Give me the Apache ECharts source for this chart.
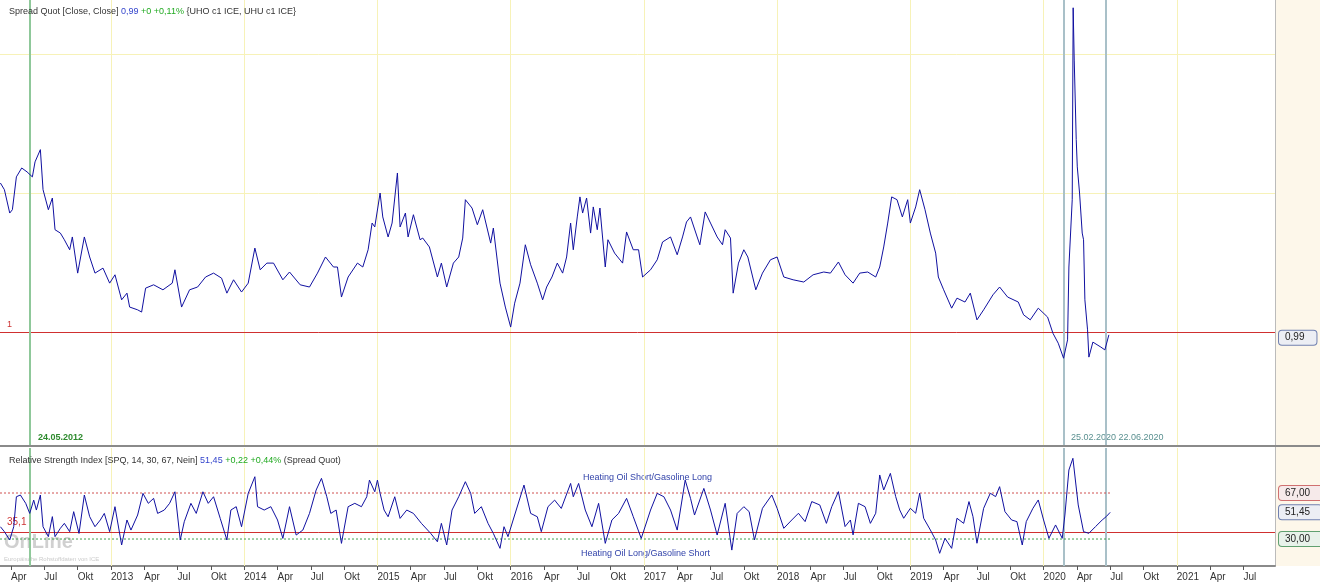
<!DOCTYPE html>
<html><head><meta charset="utf-8">
<script src="https://cdn.jsdelivr.net/npm/echarts@6/dist/echarts.min.js"></script>
<style>html,body{margin:0;padding:0;background:#fff}#c{width:1320px;height:582px}</style>
</head><body><div id="c"></div>
<script>
// Spread quote (decimal year, value)
const spreadT = [2012.17,2012.20,2012.24,2012.26,2012.29,2012.33,2012.37,2012.41,2012.43,2012.47,2012.49,2012.53,2012.56,2012.58,2012.62,2012.65,2012.69,2012.71,2012.75,2012.80,2012.84,2012.88,2012.94,2012.99,2013.03,2013.08,2013.12,2013.14,2013.20,2013.23,2013.26,2013.32,2013.39,2013.46,2013.48,2013.53,2013.59,2013.65,2013.71,2013.77,2013.83,2013.87,2013.92,2013.98,2014.03,2014.08,2014.12,2014.17,2014.22,2014.29,2014.34,2014.42,2014.49,2014.55,2014.61,2014.67,2014.70,2014.73,2014.78,2014.85,2014.89,2014.93,2014.96,2014.98,2015.02,2015.04,2015.08,2015.11,2015.15,2015.17,2015.21,2015.23,2015.27,2015.32,2015.34,2015.39,2015.45,2015.48,2015.52,2015.57,2015.61,2015.64,2015.66,2015.71,2015.75,2015.79,2015.85,2015.87,2015.92,2015.96,2016.00,2016.03,2016.07,2016.11,2016.15,2016.20,2016.24,2016.27,2016.31,2016.35,2016.39,2016.42,2016.45,2016.47,2016.50,2016.52,2016.54,2016.57,2016.60,2016.62,2016.65,2016.67,2016.71,2016.73,2016.78,2016.84,2016.87,2016.92,2016.96,2016.99,2017.05,2017.10,2017.14,2017.20,2017.25,2017.29,2017.32,2017.35,2017.40,2017.42,2017.46,2017.50,2017.55,2017.59,2017.61,2017.65,2017.67,2017.71,2017.75,2017.78,2017.84,2017.89,2017.95,2018.00,2018.05,2018.12,2018.20,2018.27,2018.35,2018.40,2018.46,2018.51,2018.57,2018.62,2018.68,2018.74,2018.77,2018.80,2018.83,2018.86,2018.90,2018.94,2018.98,2019.00,2019.04,2019.07,2019.11,2019.15,2019.19,2019.21,2019.25,2019.31,2019.35,2019.41,2019.45,2019.50,2019.55,2019.62,2019.67,2019.73,2019.81,2019.85,2019.90,2019.96,2020.03,2020.07,2020.11,2020.15,2020.18,2020.19,2020.215,2020.222,2020.23,2020.245,2020.253,2020.27,2020.29,2020.30,2020.31,2020.33,2020.34,2020.37,2020.43,2020.46,2020.49];
const spreadV = [1.268,1.256,1.214,1.220,1.279,1.295,1.288,1.279,1.306,1.328,1.256,1.220,1.241,1.184,1.178,1.166,1.148,1.171,1.106,1.171,1.135,1.106,1.115,1.088,1.103,1.058,1.070,1.045,1.040,1.036,1.079,1.085,1.076,1.088,1.112,1.045,1.076,1.081,1.099,1.106,1.097,1.070,1.094,1.072,1.088,1.151,1.112,1.124,1.124,1.094,1.108,1.085,1.081,1.106,1.135,1.117,1.117,1.063,1.099,1.124,1.117,1.148,1.196,1.189,1.250,1.207,1.171,1.196,1.286,1.189,1.214,1.171,1.211,1.166,1.169,1.153,1.099,1.124,1.081,1.124,1.135,1.169,1.238,1.223,1.193,1.220,1.160,1.187,1.088,1.045,1.009,1.052,1.088,1.157,1.121,1.088,1.058,1.081,1.099,1.124,1.106,1.135,1.196,1.148,1.207,1.243,1.214,1.241,1.178,1.225,1.184,1.223,1.117,1.166,1.142,1.124,1.180,1.148,1.148,1.099,1.112,1.130,1.162,1.171,1.139,1.171,1.198,1.207,1.171,1.157,1.216,1.196,1.171,1.157,1.184,1.169,1.070,1.124,1.148,1.135,1.076,1.106,1.130,1.135,1.099,1.094,1.090,1.103,1.108,1.106,1.126,1.103,1.088,1.106,1.108,1.099,1.117,1.153,1.196,1.243,1.238,1.207,1.238,1.196,1.225,1.256,1.220,1.178,1.142,1.099,1.076,1.043,1.061,1.054,1.070,1.022,1.040,1.067,1.081,1.063,1.054,1.031,1.022,1.043,1.027,0.998,0.980,0.953,0.986,1.117,1.238,1.583,1.489,1.346,1.297,1.250,1.178,1.166,1.058,1.004,0.955,0.982,0.973,0.968,0.995];
// RSI (decimal year, value)
const rsiT = [2012.17,2012.20,2012.24,2012.27,2012.29,2012.32,2012.36,2012.39,2012.42,2012.44,2012.47,2012.49,2012.53,2012.56,2012.58,2012.62,2012.65,2012.69,2012.72,2012.76,2012.80,2012.84,2012.88,2012.92,2012.95,2012.99,2013.03,2013.08,2013.12,2013.15,2013.20,2013.24,2013.28,2013.32,2013.35,2013.40,2013.44,2013.48,2013.52,2013.55,2013.60,2013.64,2013.69,2013.73,2013.77,2013.82,2013.87,2013.90,2013.94,2013.98,2014.03,2014.08,2014.10,2014.15,2014.20,2014.25,2014.29,2014.34,2014.39,2014.44,2014.49,2014.54,2014.58,2014.62,2014.65,2014.69,2014.73,2014.78,2014.83,2014.88,2014.92,2014.94,2014.98,2015.00,2015.02,2015.05,2015.08,2015.13,2015.17,2015.22,2015.27,2015.33,2015.40,2015.45,2015.48,2015.52,2015.56,2015.61,2015.66,2015.70,2015.73,2015.78,2015.83,2015.87,2015.92,2015.95,2015.98,2016.03,2016.10,2016.15,2016.20,2016.23,2016.28,2016.33,2016.38,2016.45,2016.47,2016.51,2016.56,2016.61,2016.66,2016.71,2016.76,2016.81,2016.87,2016.92,2016.98,2017.05,2017.10,2017.15,2017.20,2017.25,2017.31,2017.35,2017.38,2017.45,2017.50,2017.55,2017.61,2017.66,2017.70,2017.75,2017.79,2017.83,2017.89,2017.96,2018.00,2018.05,2018.11,2018.16,2018.21,2018.26,2018.32,2018.37,2018.41,2018.46,2018.51,2018.55,2018.57,2018.61,2018.66,2018.70,2018.74,2018.77,2018.80,2018.85,2018.89,2018.92,2018.95,2019.00,2019.04,2019.07,2019.10,2019.15,2019.19,2019.22,2019.26,2019.31,2019.35,2019.40,2019.44,2019.47,2019.50,2019.55,2019.60,2019.64,2019.67,2019.71,2019.76,2019.80,2019.84,2019.87,2019.92,2019.96,2020.00,2020.04,2020.09,2020.14,2020.16,2020.19,2020.22,2020.26,2020.30,2020.34,2020.39,2020.44,2020.47,2020.50];
const rsiV = [39.9,35.9,29.2,39.9,64.0,65.4,58.7,50.6,61.3,53.3,65.4,39.9,31.9,48.0,31.9,38.6,42.6,35.9,52.0,34.5,65.4,48.0,39.9,45.3,50.6,35.9,56.0,25.2,45.3,37.2,49.3,66.7,58.7,62.7,50.6,53.3,58.7,68.0,29.2,43.9,58.7,50.6,68.0,58.7,64.0,46.6,29.2,53.3,56.0,39.9,66.7,80.1,56.0,53.3,56.0,45.3,30.5,56.0,33.2,37.2,50.6,69.4,78.8,64.0,50.6,53.3,26.5,56.0,58.7,56.0,64.0,77.4,68.0,77.4,66.7,53.3,47.9,64.0,46.6,53.3,50.6,42.6,34.5,27.8,42.6,25.2,53.3,64.0,76.1,66.7,50.6,56.0,42.6,34.5,22.5,39.9,31.9,49.3,73.4,50.6,47.9,35.9,56.0,61.3,54.6,74.7,64.0,74.7,53.3,39.9,58.7,26.5,45.3,50.6,62.7,48.0,30.5,53.3,66.7,64.0,53.3,37.2,77.4,62.7,49.3,70.7,53.3,33.2,58.7,21.1,50.6,56.0,52.0,29.2,54.7,65.4,54.7,38.6,45.3,50.7,44.0,60.1,57.4,42.6,56.0,68.1,40.0,45.3,33.3,58.7,56.0,42.6,50.7,81.5,69.4,82.8,64.1,53.4,46.7,54.7,50.7,66.8,46.7,37.3,29.2,18.5,30.6,22.5,46.7,42.6,60.1,48.0,26.6,54.7,66.8,64.1,72.1,52.0,45.3,44.0,25.2,44.0,54.7,61.4,45.3,30.6,41.3,30.6,49.3,85.5,94.9,57.4,35.9,34.6,40.0,45.3,48.0,51.45];
const quarterLabels = ['', 'Apr', 'Jul', 'Okt'];
const tickValues = [2012.25,2012.5,2012.75,2013,2013.25,2013.5,2013.75,2014,2014.25,2014.5,2014.75,2015,2015.25,2015.5,2015.75,2016,2016.25,2016.5,2016.75,2017,2017.25,2017.5,2017.75,2018,2018.25,2018.5,2018.75,2019,2019.25,2019.5,2019.75,2020,2020.25,2020.5,2020.75,2021,2021.25,2021.5];
const yearValues = [2013,2014,2015,2016,2017,2018,2019,2020,2021];
const spreadGrid = [1.25, 1.5];
const eventDates = [2012.39, 2020.15, 2020.47];
const rsiBandEnd = 2020.5;
const rsiUpper = 67, rsiLower = 30, rsiMark = 35.1;

const zip = (a, b) => a.map((t, i) => [t, b[i]]);
const FONT = 'Liberation Sans';
const XMIN = 2012.167, XMAX = 2021.737;
const tag = (txt, border, bg) => ({
  show: true, position: 'end', formatter: txt, distance: 4,
  color: '#222', fontFamily: FONT, fontSize: 10,
  backgroundColor: bg, borderColor: border, borderWidth: 1, borderRadius: 3,
  padding: [2, 12, 2, 6]
});
const hidden = { color: 'rgba(0,0,0,0)', width: 0 };
const yearLines = yearValues.map(v => ({ xAxis: v, lineStyle: { color: '#f7f2b8', width: 1, type: 'solid' }, label: { show: false } }));
const eventLines = eventDates.map((v, i) => ({ xAxis: v, lineStyle: { color: i === 0 ? '#8fc89a' : '#a9c0c8', width: 2, type: 'solid' }, label: { show: false } }));
const band = (v, color) => ({ type: 'line', xAxisIndex: 1, yAxisIndex: 1, data: [[XMIN, v], [rsiBandEnd, v]], showSymbol: false, silent: true,
  lineStyle: { color, width: 1, type: [2, 2] }, z: 2 });
const chart = echarts.init(document.getElementById('c'));
chart.setOption({
  animation: false,
  backgroundColor: '#fff',
  textStyle: { fontFamily: FONT },
  grid: [
    { left: 0, top: 0, width: 1275, height: 445 },
    { left: 0, top: 448, width: 1275, height: 118 }
  ],
  xAxis: [
    { gridIndex: 0, type: 'value', min: XMIN, max: XMAX, show: false, splitLine: { show: false } },
    { gridIndex: 1, type: 'value', min: XMIN, max: XMAX,
      axisLine: { show: true, lineStyle: { color: '#8a8a8a', width: 2 } },
      axisTick: { show: true, length: 4, lineStyle: { color: '#555' }, customValues: tickValues },
      axisLabel: { color: '#333', fontSize: 10, fontFamily: FONT, align: 'left', margin: 6, customValues: tickValues,
        formatter: v => { const f = Math.round((v % 1) * 4) % 4; return f === 0 ? String(Math.round(v)) : quarterLabels[f]; } },
      splitLine: { show: false } }
  ],
  yAxis: [
    { gridIndex: 0, type: 'value', min: 0.797, max: 1.597, show: false, splitLine: { show: false } },
    { gridIndex: 1, type: 'value', min: 8.3, max: 103.2, show: false, splitLine: { show: false } }
  ],
  title: [
    { left: 4, top: 2, text: '{a|Spread Quot [Close, Close] }{b|0,99 }{c|+0 +0,11% }{UHO c1 ICE, UHU c1 ICE}',
      textStyle: { color: '#333', fontSize: 9, fontWeight: 'normal', fontFamily: FONT,
        rich: { a: { color: '#333', fontSize: 9, fontFamily: FONT }, b: { color: '#3344cc', fontSize: 9, fontFamily: FONT }, c: { color: '#22aa22', fontSize: 9, fontFamily: FONT } } } },
    { left: 4, top: 451, text: '{a|Relative Strength Index [SPQ, 14, 30, 67, Nein] }{b|51,45 }{c|+0,22 +0,44% }(Spread Quot)',
      textStyle: { color: '#333', fontSize: 9, fontWeight: 'normal', fontFamily: FONT,
        rich: { a: { color: '#333', fontSize: 9, fontFamily: FONT }, b: { color: '#3344cc', fontSize: 9, fontFamily: FONT }, c: { color: '#22aa22', fontSize: 9, fontFamily: FONT } } } }
  ],
  graphic: [
    { type: 'rect', left: 1275, top: 0, shape: { width: 45, height: 566 }, style: { fill: '#fdf7ea' }, z: -10 },
    { type: 'rect', left: 1275, top: 0, shape: { width: 1, height: 566 }, style: { fill: '#bbb' } },
    { type: 'rect', left: 0, top: 445, shape: { width: 1320, height: 2 }, style: { fill: '#8a8a8a' } },
    { type: 'text', left: 38, top: 433, style: { text: '24.05.2012', fill: '#2e8b2e', font: 'bold 9px Liberation Sans' } },
    { type: 'text', left: 1071, top: 433, style: { text: '25.02.2020 22.06.2020', fill: '#5a9090', font: '9px Liberation Sans' } },
    { type: 'text', left: 7, top: 320, style: { text: '1', fill: '#cc3333', font: '9px Liberation Sans' } },
    { type: 'text', left: 7, top: 517, style: { text: '35,1', fill: '#cc3333', font: '10px Liberation Sans' } },
    { type: 'text', left: 583, top: 473, style: { text: 'Heating Oil Short/Gasoline Long', fill: '#3344aa', font: '9px Liberation Sans' } },
    { type: 'text', left: 581, top: 549, style: { text: 'Heating Oil Long/Gasoline Short', fill: '#3344aa', font: '9px Liberation Sans' } },
    { type: 'text', left: 4, top: 532, style: { text: 'OnLine', fill: 'rgba(150,150,150,0.45)', font: 'bold 20px Liberation Sans' } },
    { type: 'text', left: 4, top: 556, style: { text: 'Europäische Rohstoffdaten von ICE', fill: 'rgba(150,150,150,0.5)', font: '6px Liberation Sans' } }
  ],
  series: [
    { type: 'line', xAxisIndex: 0, yAxisIndex: 0, data: zip(spreadT, spreadV), showSymbol: false,
      lineStyle: { color: '#1010a0', width: 1 }, z: 5,
      markLine: { silent: true, symbol: 'none', animation: false, z: 1,
        data: [
          ...yearLines,
          ...spreadGrid.map(v => ({ yAxis: v, lineStyle: { color: '#f7f2b8', width: 1, type: 'solid' }, label: { show: false } })),
          { yAxis: 1, lineStyle: { color: '#d03030', width: 1, type: 'solid' }, label: { show: false } },
          { yAxis: 0.99, lineStyle: hidden, label: tag('0,99', '#7080b0', '#eceef4') },
          ...eventLines
        ] } },
    band(rsiUpper, '#d05050'),
    band(rsiLower, '#40a050'),
    { type: 'line', xAxisIndex: 1, yAxisIndex: 1, data: zip(rsiT, rsiV), showSymbol: false,
      lineStyle: { color: '#1010a0', width: 1 }, z: 5,
      markLine: { silent: true, symbol: 'none', animation: false, z: 1,
        data: [
          ...yearLines,
          { yAxis: rsiMark, lineStyle: { color: '#d03030', width: 1, type: 'solid' }, label: { show: false } },
          { yAxis: rsiUpper, lineStyle: hidden, label: tag('67,00', '#d07070', '#f6eaea') },
          { yAxis: 51.45, lineStyle: hidden, label: tag('51,45', '#7080b0', '#eceef4') },
          { yAxis: rsiLower, lineStyle: hidden, label: tag('30,00', '#60a070', '#e8f2ea') },
          ...eventLines
        ] } }
  ]
});
</script></body></html>
